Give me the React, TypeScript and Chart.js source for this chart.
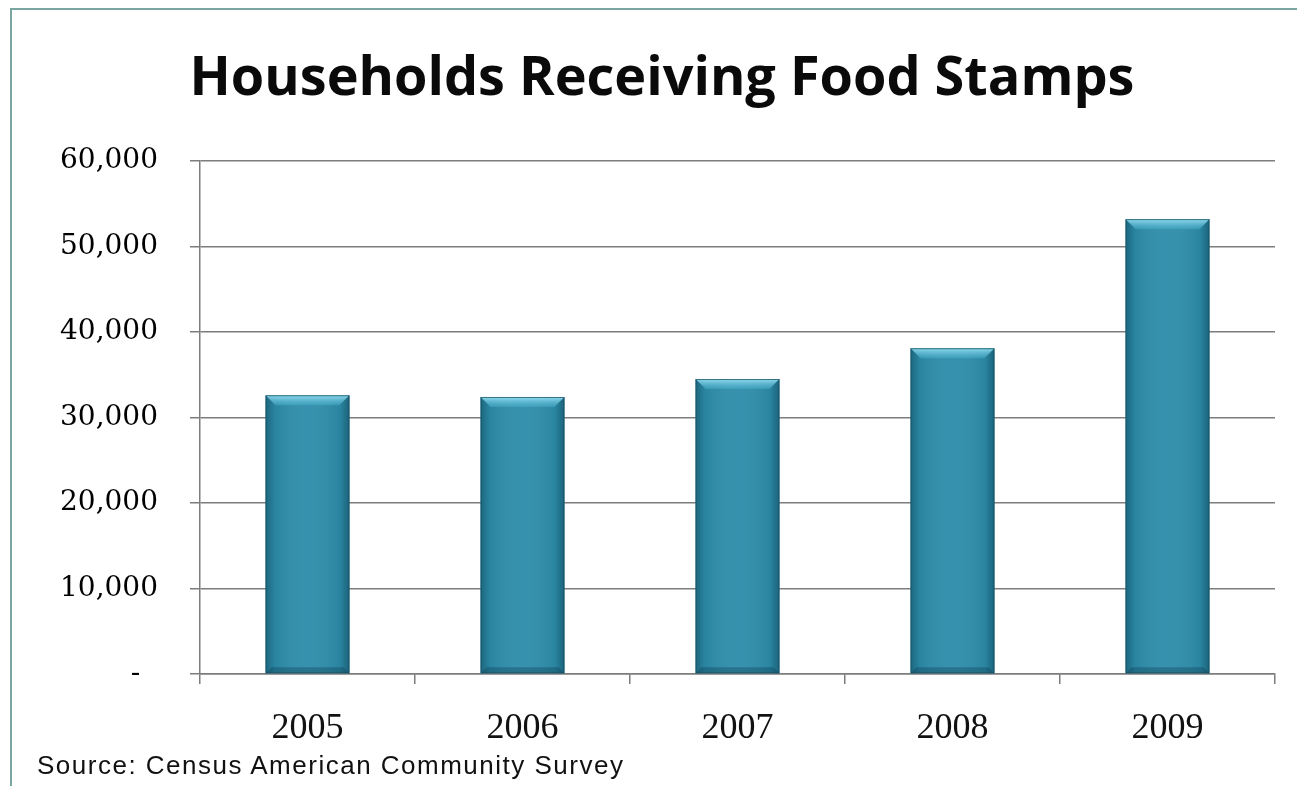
import React, { useEffect, useRef } from 'react';
import { Chart, registerables } from 'chart.js';

Chart.register(...registerables);

const categories = ['2005', '2006', '2007', '2008', '2009'];
const households = [32600, 32400, 34500, 38100, 53200];
const yMin = 0;
const yMax = 60000;
const yStep = 10000;
const titleText = 'Households Receiving Food Stamps';
const sourceText = 'Source: Census American Community Survey';

const bevelPlugin = {
  id: 'bevel',
  afterDatasetsDraw(chart: any) {
    const ctx = chart.ctx;
    chart.getSortedVisibleDatasetMetas().forEach((meta: any) => {
      meta.data.forEach((bar: any) => {
        const { x, y, base, width } = bar.getProps(['x', 'y', 'base', 'width'], true);
        const l = x - width / 2;
        const r = x + width / 2;
        const t = Math.min(y, base);
        const b = Math.max(y, base);
        const bv = 10;
        ctx.save();
        const g = ctx.createLinearGradient(l, 0, r, 0);
        g.addColorStop(0, 'rgba(15,70,90,0.55)');
        g.addColorStop(0.11, 'rgba(15,70,90,0.12)');
        g.addColorStop(0.5, 'rgba(255,255,255,0.04)');
        g.addColorStop(0.89, 'rgba(15,70,90,0.12)');
        g.addColorStop(1, 'rgba(15,70,90,0.6)');
        ctx.fillStyle = g;
        ctx.fillRect(l, t, width, b - t);
        const tg = ctx.createLinearGradient(0, t, 0, t + bv);
        tg.addColorStop(0, 'rgba(150,225,242,0.95)');
        tg.addColorStop(1, 'rgba(75,175,205,0.45)');
        ctx.beginPath();
        ctx.moveTo(l, t);
        ctx.lineTo(r, t);
        ctx.lineTo(r - bv, t + bv);
        ctx.lineTo(l + bv, t + bv);
        ctx.closePath();
        ctx.fillStyle = tg;
        ctx.fill();
        ctx.beginPath();
        ctx.moveTo(l, b);
        ctx.lineTo(r, b);
        ctx.lineTo(r - 6, b - 6);
        ctx.lineTo(l + 6, b - 6);
        ctx.closePath();
        ctx.fillStyle = 'rgba(15,60,80,0.35)';
        ctx.fill();
        ctx.strokeStyle = 'rgba(25,80,100,0.75)';
        ctx.lineWidth = 1;
        ctx.strokeRect(l + 0.5, t + 0.5, width - 1, b - t - 1);
        ctx.restore();
      });
    });
  },
};

export default function App() {
  const canvasRef = useRef<HTMLCanvasElement | null>(null);

  useEffect(() => {
    if (!canvasRef.current) return;
    const chart = new Chart(canvasRef.current, {
      type: 'bar',
      data: {
        labels: categories,
        datasets: [
          {
            label: 'Households',
            data: households,
            backgroundColor: '#2d8daa',
            borderWidth: 0,
            barPercentage: 0.39,
            categoryPercentage: 1,
          },
        ],
      },
      options: {
        animation: false,
        responsive: false,
        maintainAspectRatio: false,
        layout: { padding: { left: 49, right: 22, top: 47, bottom: 0 } },
        plugins: {
          legend: { display: false },
          tooltip: { enabled: false },
          title: {
            display: true,
            text: titleText,
            color: '#0a0a0a',
            font: { family: 'Open Sans', size: 54, weight: 'bold' },
            padding: { top: 0, bottom: 49.2 },
          },
        },
        scales: {
          x: {
            afterFit: (scale: any) => {
              scale.height = 112;
            },
            grid: {
              offset: true,
              drawOnChartArea: false,
              drawTicks: true,
              tickLength: 10,
              color: '#7d7d7d',
              lineWidth: 1.5,
            },
            border: { display: true, color: '#7d7d7d', width: 1.5 },
            ticks: {
              color: '#111111',
              padding: 23,
              font: { family: 'Liberation Serif', size: 36 },
            },
          },
          y: {
            min: yMin,
            max: yMax,
            afterFit: (scale: any) => {
              scale.width = 151;
            },
            grid: {
              color: '#7d7d7d',
              lineWidth: 1.5,
              tickLength: 10,
            },
            border: { display: true, color: '#7d7d7d', width: 1.5 },
            ticks: {
              stepSize: yStep,
              color: '#000000',
              padding: 32,
              font: { family: 'DejaVu Serif', size: 28 },
              callback: (v: any) => (Number(v) === 0 ? '-  ' : Number(v).toLocaleString('en-US')),
            },
          },
        },
      },
      plugins: [bevelPlugin],
    });
    return () => chart.destroy();
  }, []);

  return (
    <div
      style={{
        position: 'absolute',
        left: 0,
        top: 0,
        width: 1297,
        height: 786,
        overflow: 'hidden',
        background: '#ffffff',
      }}
    >
      <div
        style={{
          position: 'absolute',
          left: 10,
          top: 8,
          width: 1320,
          height: 820,
          border: '2px solid #7aa6a2',
          boxSizing: 'border-box',
        }}
      />
      <canvas
        ref={canvasRef}
        width={1297}
        height={786}
        style={{ position: 'absolute', left: 0, top: 0, width: 1297, height: 786 }}
      />
      <div
        style={{
          position: 'absolute',
          left: 37,
          top: 752,
          fontFamily: 'Liberation Sans',
          fontSize: 26,
          lineHeight: '26px',
          color: '#111111',
          whiteSpace: 'nowrap',
          letterSpacing: '1.5px',
        }}
      >
        {sourceText}
      </div>
    </div>
  );
}
